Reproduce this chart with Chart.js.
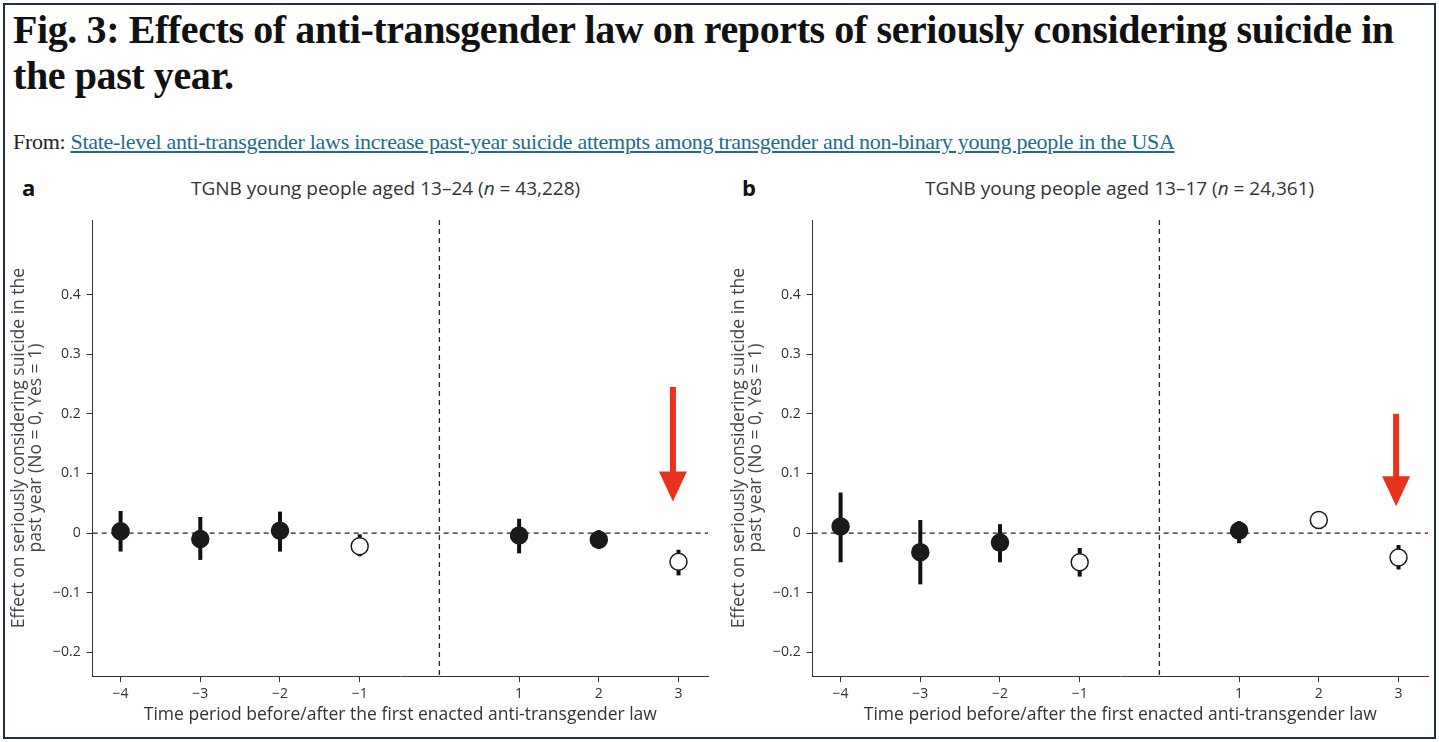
<!DOCTYPE html>
<html><head><meta charset="utf-8">
<script src="https://cdn.jsdelivr.net/npm/chart.js@4"></script>
<style>
body{margin:0;background:#fff;width:1439px;height:742px;overflow:hidden;position:relative;font-family:"Open Sans",sans-serif}
#frame{position:absolute;left:3px;top:3px;width:1429px;height:732px;border:2px solid #1f2d4e}
h1{position:absolute;left:13px;top:7px;margin:0;font:bold 40px/46px "Liberation Serif",serif;letter-spacing:-0.4px;color:#111;width:1400px}
#from{position:absolute;left:13px;top:129px;font:22px "Liberation Serif",serif;letter-spacing:-0.3px;color:#222}
#from a{color:#1f6b8a;text-decoration:underline}
.lab{position:absolute;font:bold 22px "Open Sans",sans-serif;color:#111}
.ptitle{position:absolute;font:19px "Open Sans",sans-serif;color:#333}
.box{position:absolute;top:200px;width:720px;height:530px}
</style></head><body>
<div id="frame"></div>
<h1>Fig. 3: Effects of anti-transgender law on reports of seriously considering suicide in the past year.</h1>
<div id="from">From: <a href="#">State-level anti-transgender laws increase past-year suicide attempts among transgender and non-binary young people in the USA</a></div>
<div class="lab" style="left:22px;top:172px">a</div>
<div class="ptitle" style="left:191px;top:175px">TGNB young people aged 13–24 (<i>n</i> = 43,228)</div>
<div class="lab" style="left:742px;top:172px">b</div>
<div class="ptitle" style="left:925px;top:175px">TGNB young people aged 13–17 (<i>n</i> = 24,361)</div>
<div class="box" style="left:0"><canvas id="ca"></canvas></div>
<div class="box" style="left:720px"><canvas id="cb"></canvas></div>
<script>
const periods = [-4, -3, -2, -1, 1, 2, 3]
const xTicks = [-4, -3, -2, -1, 1, 2, 3]
const yTicks = [-0.2, -0.1, 0, 0.1, 0.2, 0.3, 0.4]

// panel a: estimate, upper, lower, open marker
const estA = [0.003, -0.010, 0.004, -0.022, -0.004, -0.011, -0.048]
const hiA = [0.037, 0.027, 0.036, -0.002, 0.024, 0.005, -0.028]
const loA = [-0.031, -0.045, -0.031, -0.039, -0.034, -0.026, -0.071]
const openA = [false, false, false, true, false, false, true]

// panel b
const estB = [0.011, -0.032, -0.016, -0.049, 0.004, 0.022, -0.041]
const hiB = [0.068, 0.022, 0.015, -0.025, 0.020, 0.037, -0.020]
const loB = [-0.049, -0.086, -0.049, -0.073, -0.017, 0.007, -0.061]
const openB = [false, false, false, true, false, true, true]

// red arrow: x, from y, to y
const arrowA = [2.93, 0.245, 0.053]
const arrowB = [2.97, 0.200, 0.045]

const fmt = v => (v < 0 ? "\u2212" : "") + Math.abs(v).toString()

const extras = {
    id: "extras",
    beforeDatasetsDraw(chart, args, o) {
        const {ctx, scales: {x, y}, chartArea: a} = chart
        ctx.save()
        ctx.strokeStyle = "#222"
        ctx.lineWidth = 1.3
        ctx.setLineDash([5, 4])
        ctx.beginPath()
        ctx.moveTo(a.left, y.getPixelForValue(0)); ctx.lineTo(a.right, y.getPixelForValue(0))
        ctx.moveTo(x.getPixelForValue(0), a.top); ctx.lineTo(x.getPixelForValue(0), a.bottom)
        ctx.stroke()
        ctx.setLineDash([])
        ctx.lineWidth = 4
        ctx.strokeStyle = "#111"
        periods.forEach((p, i) => {
            ctx.beginPath()
            ctx.moveTo(x.getPixelForValue(p), y.getPixelForValue(o.hi[i]))
            ctx.lineTo(x.getPixelForValue(p), y.getPixelForValue(o.lo[i]))
            ctx.stroke()
        })
        // arrow
        const ax = x.getPixelForValue(o.arrow[0])
        const y1 = y.getPixelForValue(o.arrow[1]), y2 = y.getPixelForValue(o.arrow[2])
        ctx.fillStyle = "#e8321e"
        ctx.fillRect(ax - 3, y1, 6, y2 - y1 - 28)
        ctx.beginPath()
        ctx.moveTo(ax - 14, y2 - 30); ctx.lineTo(ax + 14, y2 - 30); ctx.lineTo(ax, y2)
        ctx.closePath(); ctx.fill()
        ctx.restore()
    }
}

function makeChart(id, est, hi, lo, open, arrow) {
    new Chart(document.getElementById(id), {
        type: "scatter",
        data: {
            datasets: [{
                data: periods.map((p, i) => ({x: p, y: est[i]})),
                pointRadius: 8.5,
                pointHoverRadius: 8.5,
                pointBackgroundColor: open.map(o => o ? "#fff" : "#1a1a1a"),
                pointBorderColor: "#1a1a1a",
                pointBorderWidth: 1.5
            }]
        },
        options: {
            responsive: true,
            maintainAspectRatio: false,
            animation: false,
            layout: {padding: {top: 20, right: 12, left: 6}},
            plugins: {legend: {display: false}, tooltip: {enabled: false}, extras: {hi, lo, arrow}},
            scales: {
                x: {
                    min: -4.35, max: 3.37,
                    afterBuildTicks: s => { s.ticks = xTicks.map(v => ({value: v})) },
                    ticks: {callback: v => fmt(v), color: "#333", font: {size: 14, family: "Open Sans"}, maxRotation: 0},
                    grid: {drawOnChartArea: false, drawTicks: true, tickLength: 6, color: "#333"},
                    border: {color: "#333", width: 1},
                    title: {display: true, text: "Time period before/after the first enacted anti-transgender law", color: "#333", font: {size: 17.5, family: "Open Sans"}, padding: {top: 0}}
                },
                y: {
                    min: -0.24, max: 0.525,
                    afterBuildTicks: s => { s.ticks = yTicks.map(v => ({value: v})) },
                    ticks: {callback: v => fmt(Math.round(v * 10) / 10), color: "#333", font: {size: 14, family: "Open Sans"}, padding: 6},
                    grid: {drawOnChartArea: false, drawTicks: true, tickLength: 6, color: "#333"},
                    border: {color: "#333", width: 1},
                    title: {display: true, text: ["Effect on seriously considering suicide in the", "past year (No = 0, Yes = 1)"], color: "#444", font: {size: 17.5, family: "Open Sans", lineHeight: 1.0}, padding: {bottom: 2}}
                }
            }
        },
        plugins: [extras]
    })
}

makeChart("ca", estA, hiA, loA, openA, arrowA)
makeChart("cb", estB, hiB, loB, openB, arrowB)
</script>
</body></html>
